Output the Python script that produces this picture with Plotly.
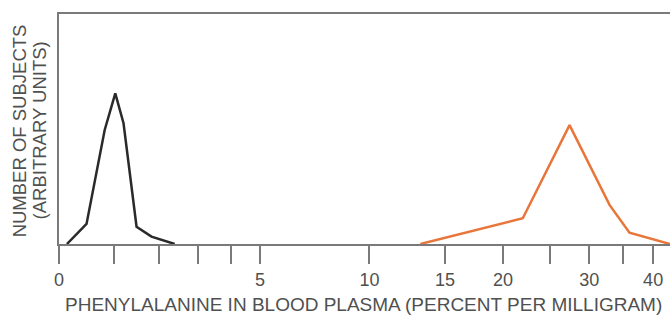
import math
import plotly.graph_objects as go

# Phenylalanine level (x) versus relative number of subjects (y)
normal_x = [0.13, 0.47, 0.81, 1.02, 1.19, 1.47, 1.81, 2.38]
normal_y = [0, 8.7, 49.6, 65.5, 52.5, 7.5, 3.2, 0]

pku_x = [13.2, 22.0, 27.4, 32.9, 36.0, 43.1]
pku_y = [0, 11.2, 51.7, 17.0, 4.9, 0]

tick_values = [0, 1, 2, 3, 4, 5, 10, 15, 20, 25, 30, 35, 40]
tick_labels = ["0", "", "", "", "", "5", "10", "15", "20", "", "30", "", "40"]

x_title = "PHENYLALANINE IN BLOOD PLASMA (PERCENT PER MILLIGRAM)"
y_title_lines = ["NUMBER OF SUBJECTS", "(ARBITRARY UNITS)"]

# The horizontal scale is logarithmic in (value + OFFSET)
OFFSET = 4
X_MAX = 43.1

TEXT = "#505050"
AXIS = "#7a7a7a"
FONT = "Liberation Sans, Arial, Helvetica, sans-serif"

fig = go.Figure()
fig.add_trace(go.Scatter(
    x=[v + OFFSET for v in normal_x], y=normal_y, mode="lines",
    line=dict(color="#2a2a2a", width=2.5), hoverinfo="skip",
))
fig.add_trace(go.Scatter(
    x=[v + OFFSET for v in pku_x], y=pku_y, mode="lines",
    line=dict(color="#e8763a", width=2.5), hoverinfo="skip",
))

# Rotated two-line y title, one annotation per line for tight spacing
y_title_x = [-0.0655, -0.0327]
annotations = [
    dict(
        text=x_title,
        xref="paper", yref="paper", x=0.498, y=-0.265,
        xanchor="center", yanchor="middle", showarrow=False,
        font=dict(size=19, color=TEXT, family=FONT),
    )
]
for line, xpos in zip(y_title_lines, y_title_x):
    annotations.append(dict(
        text=line,
        xref="paper", yref="paper", x=xpos, y=0.494,
        xanchor="center", yanchor="middle", showarrow=False,
        textangle=-90,
        font=dict(size=18.5, color=TEXT, family=FONT),
    ))

fig.update_layout(
    width=670, height=320,
    margin=dict(l=59, r=0, t=14, b=76),
    paper_bgcolor="white", plot_bgcolor="white",
    showlegend=False,
    font=dict(family=FONT, color=TEXT),
    xaxis=dict(
        type="log",
        range=[math.log10(OFFSET), math.log10(X_MAX + OFFSET)],
        tickmode="array",
        tickvals=[v + OFFSET for v in tick_values],
        ticktext=tick_labels,
        ticks="outside", ticklen=18, tickwidth=2, tickcolor=AXIS,
        tickfont=dict(size=18, color=TEXT, family=FONT),
        showgrid=False, zeroline=False,
        showline=True, linecolor=AXIS, linewidth=2, mirror=True,
    ),
    yaxis=dict(
        range=[0, 100],
        showticklabels=False, ticks="",
        showgrid=False, zeroline=False,
        showline=True, linecolor=AXIS, linewidth=2,
    ),
    annotations=annotations,
)

fig.write_html("out.html")
